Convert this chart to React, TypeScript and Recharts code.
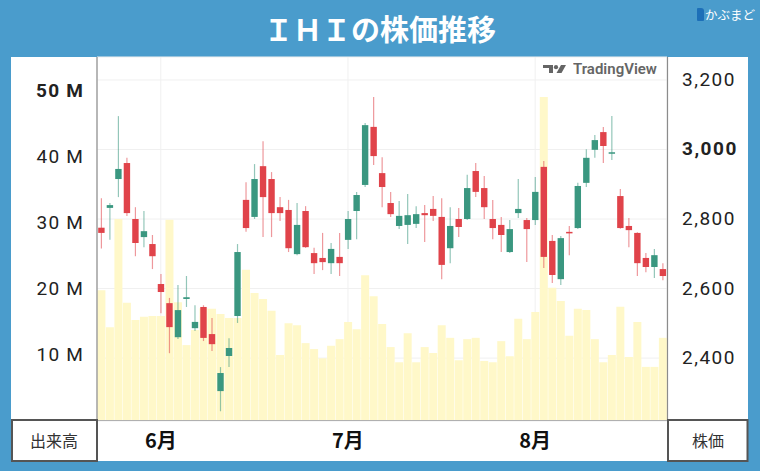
import { ComposedChart, Bar, XAxis, YAxis, CartesianGrid } from "recharts";

const dates = [
  "5/23", "5/24", "5/25", "5/26", "5/29", "5/30", "5/31",
  "6/1", "6/2", "6/5", "6/6", "6/7", "6/8", "6/9", "6/12", "6/13", "6/14", "6/15",
  "6/16", "6/19", "6/20", "6/21", "6/22", "6/23", "6/26", "6/27", "6/28", "6/29", "6/30",
  "7/1", "7/3", "7/4", "7/5", "7/6", "7/7", "7/10", "7/11", "7/12", "7/13", "7/14",
  "7/17", "7/18", "7/19", "7/20", "7/21", "7/24", "7/25", "7/26", "7/27", "7/28", "7/31",
  "8/1", "8/2", "8/3", "8/4", "8/7", "8/8", "8/9", "8/10", "8/11", "8/14", "8/15",
  "8/16", "8/17", "8/18", "8/21", "8/22",
];

const opens = [
  2775, 2832, 2915, 2961, 2800, 2748, 2728, 2613, 2558, 2460, 2570, 2486, 2547, 2469,
  2305, 2406, 2521, 2855, 2806, 2952, 2915, 2834, 2826, 2699, 2823, 2702, 2688, 2673,
  2691, 2740, 2823, 2898, 3065, 2932, 2846, 2780, 2783, 2786, 2817, 2829, 2806, 2716,
  2800, 2800, 2938, 2889, 2800, 2783, 2705, 2817, 2797, 2797, 2950, 2737, 2627, 2763,
  2774, 2904, 2999, 3050, 2988, 2866, 2780, 2760, 2688, 2662, 2656,
];
const highs = [
  2860, 2846, 3096, 2976, 2834, 2823, 2754, 2642, 2573, 2610, 2636, 2552, 2552, 2515,
  2374, 2457, 2728, 2906, 2958, 3024, 2935, 2863, 2855, 2846, 2837, 2717, 2760, 2731,
  2760, 2823, 2878, 3076, 3151, 2978, 2878, 2852, 2872, 2837, 2840, 2866, 2860, 2834,
  2832, 2927, 2961, 2924, 2855, 2806, 2797, 2915, 2803, 2921, 2967, 2754, 2751, 2780,
  2904, 3001, 3042, 3065, 3096, 2886, 2803, 2762, 2702, 2714, 2673,
];
const lows = [
  2715, 2740, 2863, 2809, 2693, 2719, 2656, 2529, 2414, 2455, 2547, 2478, 2449, 2420,
  2247, 2374, 2501, 2763, 2800, 2748, 2748, 2794, 2705, 2696, 2717, 2642, 2653, 2642,
  2636, 2714, 2742, 2892, 2955, 2834, 2806, 2771, 2728, 2774, 2734, 2794, 2627, 2673,
  2748, 2797, 2863, 2800, 2742, 2705, 2702, 2803, 2676, 2783, 2659, 2616, 2610, 2696,
  2771, 2892, 2976, 2961, 2970, 2772, 2719, 2636, 2647, 2630, 2624,
];
const closes = [
  2760, 2840, 2944, 2817, 2731, 2765, 2693, 2590, 2489, 2538, 2575, 2504, 2458, 2440,
  2357, 2429, 2705, 2774, 2915, 2863, 2817, 2817, 2716, 2783, 2719, 2673, 2676, 2714,
  2673, 2800, 2869, 3070, 2981, 2892, 2814, 2809, 2811, 2814, 2811, 2809, 2668, 2780,
  2777, 2889, 2878, 2834, 2774, 2754, 2771, 2829, 2771, 2878, 2691, 2639, 2745, 2760,
  2895, 2976, 3027, 3010, 2992, 2774, 2768, 2673, 2662, 2696, 2636,
];
// 出来高（百万株）
const volumes = [
  19.8, 14.2, 30.6, 17.9, 15.3, 15.8, 15.9, 15.9, 30.5, 18.0, 11.5, 13.8, 17.1, 17.0,
  16.2, 15.6, 15.6, 22.9, 19.4, 18.5, 16.7, 10.0, 14.8, 14.5, 11.8, 10.9, 9.5, 11.4,
  12.4, 15.0, 13.9, 22.1, 18.9, 14.7, 11.2, 8.9, 13.3, 8.9, 11.2, 10.3, 14.5, 12.6,
  9.2, 12.4, 12.6, 9.1, 8.9, 12.1, 9.8, 15.5, 12.4, 16.5, 49.1, 20.2, 18.2, 12.9,
  17.0, 16.8, 12.4, 8.9, 10.0, 17.3, 9.7, 15.0, 8.2, 8.2, 12.6,
];

const priceTicks = [2400, 2600, 2800, 3000, 3200];
const volumeTicks = [10, 20, 30, 40, 50];
const monthTicks = ["6/1", "7/1", "8/1"];
const monthLabels = ["6月", "7月", "8月"];

const rows = dates.map((date, i) => ({
  date,
  open: opens[i],
  high: highs[i],
  low: lows[i],
  close: closes[i],
  vol: volumes[i],
  range: [lows[i], highs[i]],
}));

const UP = "#3a9780";
const DOWN = "#e0434a";
const FONT = "Roboto, 'Noto Sans CJK JP', sans-serif";
const JP = "'Noto Sans CJK JP', sans-serif";

function Candle(props: any) {
  const { x, y, width, height, payload } = props;
  if (x == null || !payload) return null;
  const top = Math.min(y, y + height);
  const h = Math.abs(height);
  const { open, high, low, close } = payload;
  const py = (v: number) => top + ((high - v) / (high - low)) * h;
  const color = close >= open ? UP : DOWN;
  const cx = x + width / 2;
  const bodyTop = py(Math.max(open, close));
  const bodyH = Math.max(py(Math.min(open, close)) - bodyTop, 1.5);
  const bw = 6.4;
  return (
    <g>
      <line x1={cx} x2={cx} y1={top} y2={top + h} stroke={color} strokeOpacity={0.55} strokeWidth={1.2} />
      <rect x={cx - bw / 2} y={bodyTop} width={bw} height={bodyH} fill={color} />
    </g>
  );
}

function VolTick(props: any) {
  const { y, payload } = props;
  return (
    <text x={84} y={y} dy={6} textAnchor="end" fontSize={19} fontFamily={FONT}
      fontWeight={payload.value === 50 ? 700 : 400} fill="#222" letterSpacing={1.2}>
      {payload.value} M
    </text>
  );
}

function PriceTick(props: any) {
  const { y, payload } = props;
  return (
    <text x={682} y={y} dy={6} textAnchor="start" fontSize={19} fontFamily={FONT}
      fontWeight={payload.value === 3000 ? 700 : 400} fill="#222" letterSpacing={1.5}>
      {payload.value.toLocaleString("en-US")}
    </text>
  );
}

function MonthTick(props: any) {
  const { x, payload } = props;
  const label = monthLabels[monthTicks.indexOf(payload.value)];
  return (
    <text x={x} y={448} textAnchor="middle" fontSize={20} fontFamily={JP} fontWeight={700} fill="#111">
      {label}
    </text>
  );
}

export default function App() {
  return (
    <div style={{ position: "absolute", left: 0, top: 0, width: 760, height: 471, background: "#4a9ccc", overflow: "hidden" }}>
      <div style={{ position: "absolute", left: 0, top: 0, width: 760, height: 56, lineHeight: "56px", textAlign: "center", color: "#fff", fontSize: 29, fontWeight: 700, fontFamily: JP }}>
        ＩＨＩの株価推移
      </div>
      <div style={{ position: "absolute", left: 697, top: 8, width: 7, height: 13, background: "#1d6fb8", borderRadius: "1px 3px 1px 1px" }} />
      <div style={{ position: "absolute", left: 705, top: 6, color: "#fff", fontSize: 12.5, fontFamily: JP, lineHeight: "17px" }}>
        かぶまど
      </div>
      <div style={{ position: "absolute", left: 11, top: 57, width: 737, height: 404, background: "#fff" }} />

      <div style={{ position: "absolute", left: 0, top: 0 }}>
        <ComposedChart width={760} height={471} data={rows} barCategoryGap={0.4}
          margin={{ top: 57, right: 12, bottom: 10, left: 11 }}>
          <CartesianGrid xAxisId="c" yAxisId="price" stroke="#f0f0f0" strokeWidth={1} />
          <XAxis xAxisId="c" dataKey="date" ticks={monthTicks} interval={0} tick={<MonthTick />}
            axisLine={false} tickLine={false} height={40} />
          <XAxis xAxisId="v" dataKey="date" hide />
          <YAxis yAxisId="vol" orientation="left" width={86} domain={[0, 55.15]} ticks={volumeTicks}
            allowDataOverflow tick={<VolTick />} axisLine={false} tickLine={false} />
          <YAxis yAxisId="price" orientation="right" width={81} domain={[2219, 3266]} ticks={priceTicks}
            allowDataOverflow tick={<PriceTick />} axisLine={false} tickLine={false} />
          <Bar xAxisId="v" yAxisId="vol" dataKey="vol" fill="#fff8c9" isAnimationActive={false} />
          <Bar xAxisId="c" yAxisId="price" dataKey="range" shape={<Candle />} isAnimationActive={false} />
        </ComposedChart>
      </div>

      <svg style={{ position: "absolute", left: 0, top: 0 }} width={760} height={471}>
        <g fill="#555" opacity={0.9}>
          <path d="M543 65 H553 V73 H549 V68 H543 Z" />
          <circle cx={556} cy={67.2} r={2.1} />
          <path d="M561 65 H566 L561.5 73 H556.5 Z" />
        </g>
        <text x={573} y={73.5} fontSize={15} fontWeight={600} fill="#555" opacity={0.9} fontFamily={FONT}>
          TradingView
        </text>
        <line x1={97} x2={97} y1={57} y2={420} stroke="#8c8c8c" strokeWidth={1.2} />
        <line x1={667.5} x2={667.5} y1={57} y2={420} stroke="#8c8c8c" strokeWidth={1.2} />
        <line x1={97} x2={668} y1={420.5} y2={420.5} stroke="#b0b0b0" strokeWidth={1} />
        <rect x={12} y={420} width={85} height={41} fill="none" stroke="#555" strokeWidth={2} />
        <rect x={668} y={420} width={79.5} height={41} fill="none" stroke="#555" strokeWidth={2} />
        <text x={54} y={446.5} textAnchor="middle" fontSize={16} fill="#333" fontFamily={JP}>出来高</text>
        <text x={708} y={446.5} textAnchor="middle" fontSize={16} fill="#333" fontFamily={JP}>株価</text>
      </svg>
    </div>
  );
}
